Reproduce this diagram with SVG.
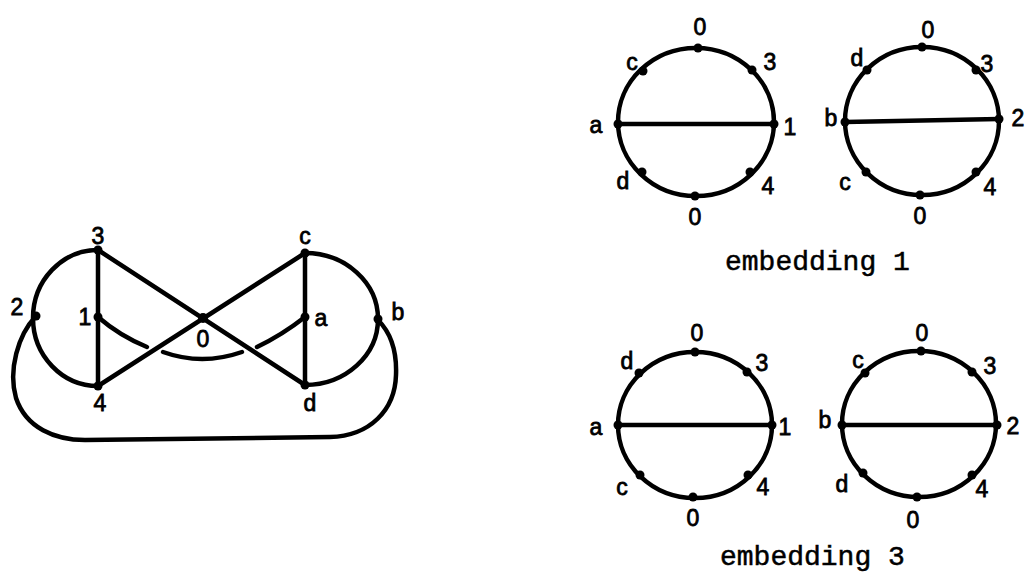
<svg xmlns="http://www.w3.org/2000/svg" width="1036" height="579" viewBox="0 0 1036 579">
<style>
.e{fill:none;stroke:#000;stroke-width:4.5;stroke-linecap:round;stroke-linejoin:round}
.n{fill:#000}
.l{font-family:"Liberation Sans",Arial,sans-serif;font-size:23px;fill:#000;stroke:#000;stroke-width:0.8;text-anchor:middle;dominant-baseline:central}
.cap{font-family:"Liberation Mono","Courier New",monospace;font-size:28px;fill:#000;stroke:#000;stroke-width:0.5}
</style>
<rect width="1036" height="579" fill="#fff"/>

<!-- Left graph -->
<g id="connectors">
  <path class="e" d="M98,250 A65,68 0 0 0 98,386"/>
  <path class="e" d="M305,253 A73,66 0 0 1 305,385"/>
  <path class="e" d="M98,250 L98,386"/>
  <path class="e" d="M305,253 L305,385"/>
  <path class="e" d="M98,250 L305,385"/>
  <path class="e" d="M305,253 L98,386"/>
  <path class="e" d="M98,317 Q120,336 147,347"/>
  <path class="e" d="M163,352 Q202,366 242,352"/>
  <path class="e" d="M257,347 Q282,335 305,317"/>
  <path class="e" d="M36,316 C18,335 8,370 16,398 C26,428 55,440 85,440 L330,437 C370,436 395,410 396,375 C397,350 390,332 378,320"/>
</g>

<g id="node-3"><circle class="n" cx="98" cy="250" r="4.5"/><text class="l" x="98" y="236">3</text></g>
<g id="node-4"><circle class="n" cx="98" cy="386" r="4.5"/><text class="l" x="100" y="403">4</text></g>
<g id="node-1"><circle class="n" cx="98" cy="317" r="4.5"/><text class="l" x="85" y="317">1</text></g>
<g id="node-2"><circle class="n" cx="36" cy="316" r="4.5"/><text class="l" x="17" y="307">2</text></g>
<g id="node-0"><circle class="n" cx="203" cy="318" r="5"/><text class="l" x="203" y="339">0</text></g>
<g id="node-c"><circle class="n" cx="305" cy="253" r="4.5"/><text class="l" x="305" y="236">c</text></g>
<g id="node-a"><circle class="n" cx="305" cy="317" r="4.5"/><text class="l" x="321" y="318">a</text></g>
<g id="node-d"><circle class="n" cx="305" cy="385" r="4.5"/><text class="l" x="310" y="403">d</text></g>
<g id="node-b"><circle class="n" cx="378" cy="319" r="4.5"/><text class="l" x="398" y="312">b</text></g>

<!-- Embedding 1, left circle -->
<g id="emb1-left">
  <ellipse class="e" cx="696" cy="122" rx="78" ry="74"/>
  <path class="e" d="M618,124 L774,124"/>
  <circle class="n" cx="698" cy="48" r="4.5"/>
  <circle class="n" cx="695" cy="196" r="4.5"/>
  <circle class="n" cx="643" cy="71" r="4.5"/>
  <circle class="n" cx="752" cy="70" r="4.5"/>
  <circle class="n" cx="642" cy="172" r="4.5"/>
  <circle class="n" cx="750" cy="172" r="4.5"/>
  <circle class="n" cx="618" cy="124" r="4.5"/>
  <circle class="n" cx="774" cy="124" r="4.5"/>
  <text class="l" x="700" y="27">0</text>
  <text class="l" x="632" y="62">c</text>
  <text class="l" x="770" y="62">3</text>
  <text class="l" x="596" y="125">a</text>
  <text class="l" x="790" y="127">1</text>
  <text class="l" x="623" y="181">d</text>
  <text class="l" x="768" y="186">4</text>
  <text class="l" x="695" y="217">0</text>
</g>

<!-- Embedding 1, right circle -->
<g id="emb1-right">
  <ellipse class="e" cx="922" cy="121" rx="77" ry="74"/>
  <path class="e" d="M845,122 L999,119"/>
  <circle class="n" cx="922" cy="47" r="4.5"/>
  <circle class="n" cx="920" cy="195" r="4.5"/>
  <circle class="n" cx="867" cy="70" r="4.5"/>
  <circle class="n" cx="866" cy="172" r="4.5"/>
  <circle class="n" cx="976" cy="70" r="4.5"/>
  <circle class="n" cx="976" cy="172" r="4.5"/>
  <circle class="n" cx="845" cy="122" r="4.5"/>
  <circle class="n" cx="999" cy="119" r="4.5"/>
  <text class="l" x="928" y="30">0</text>
  <text class="l" x="857" y="58">d</text>
  <text class="l" x="987" y="64">3</text>
  <text class="l" x="831" y="118">b</text>
  <text class="l" x="1018" y="118">2</text>
  <text class="l" x="845" y="182">c</text>
  <text class="l" x="990" y="187">4</text>
  <text class="l" x="920" y="216">0</text>
</g>

<text class="cap" x="725" y="270">embedding 1</text>

<!-- Embedding 3, left circle -->
<g id="emb3-left">
  <ellipse class="e" cx="695" cy="425" rx="77" ry="73"/>
  <path class="e" d="M618,425 L772,425"/>
  <circle class="n" cx="695" cy="352" r="4.5"/>
  <circle class="n" cx="693" cy="497" r="4.5"/>
  <circle class="n" cx="639" cy="373" r="4.5"/>
  <circle class="n" cx="747" cy="372" r="4.5"/>
  <circle class="n" cx="640" cy="475" r="4.5"/>
  <circle class="n" cx="748" cy="475" r="4.5"/>
  <circle class="n" cx="618" cy="425" r="4.5"/>
  <circle class="n" cx="772" cy="425" r="4.5"/>
  <text class="l" x="697" y="333">0</text>
  <text class="l" x="627" y="361">d</text>
  <text class="l" x="762" y="363">3</text>
  <text class="l" x="596" y="427">a</text>
  <text class="l" x="785" y="427">1</text>
  <text class="l" x="622" y="487">c</text>
  <text class="l" x="763" y="487">4</text>
  <text class="l" x="693" y="518">0</text>
</g>

<!-- Embedding 3, right circle -->
<g id="emb3-right">
  <ellipse class="e" cx="919" cy="424" rx="77" ry="73"/>
  <path class="e" d="M842,425 L997,425"/>
  <circle class="n" cx="921" cy="351" r="4.5"/>
  <circle class="n" cx="917" cy="497" r="4.5"/>
  <circle class="n" cx="865" cy="373" r="4.5"/>
  <circle class="n" cx="972" cy="372" r="4.5"/>
  <circle class="n" cx="863" cy="473" r="4.5"/>
  <circle class="n" cx="972" cy="475" r="4.5"/>
  <circle class="n" cx="842" cy="425" r="4.5"/>
  <circle class="n" cx="997" cy="425" r="4.5"/>
  <text class="l" x="922" y="333">0</text>
  <text class="l" x="858" y="360">c</text>
  <text class="l" x="990" y="366">3</text>
  <text class="l" x="825" y="420">b</text>
  <text class="l" x="1013" y="426">2</text>
  <text class="l" x="842" y="484">d</text>
  <text class="l" x="982" y="489">4</text>
  <text class="l" x="913" y="520">0</text>
</g>

<text class="cap" x="720" y="565">embedding 3</text>
</svg>
